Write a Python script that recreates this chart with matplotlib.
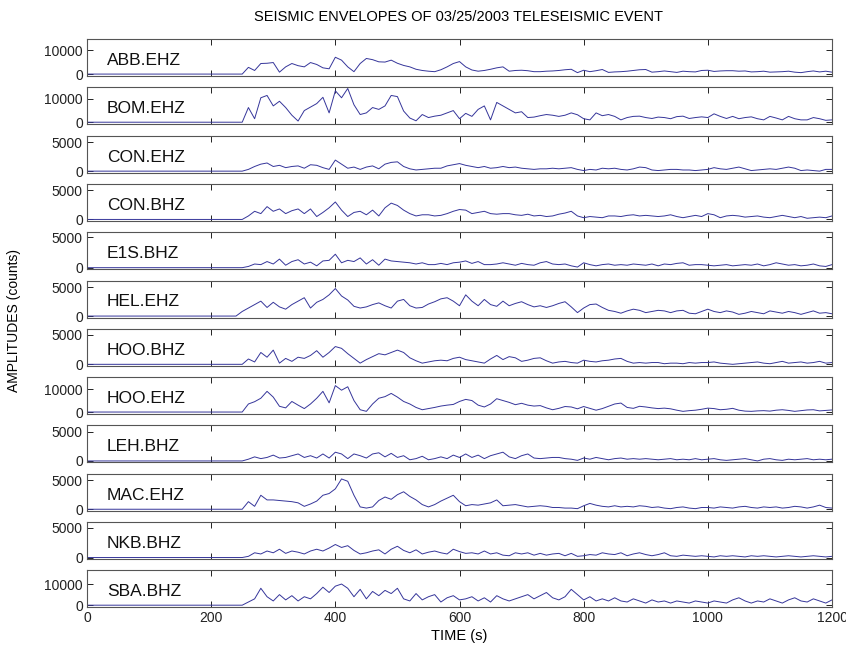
import numpy as np
import matplotlib
matplotlib.use('Agg')
import matplotlib.pyplot as plt

plt.rcParams['font.family'] = ['Liberation Sans', 'DejaVu Sans']

# station / channel names, top to bottom
stations = ['ABB.EHZ', 'BOM.EHZ', 'CON.EHZ', 'CON.BHZ', 'E1S.BHZ', 'HEL.EHZ',
            'HOO.BHZ', 'HOO.EHZ', 'LEH.BHZ', 'MAC.EHZ', 'NKB.BHZ', 'SBA.BHZ']

# envelope amplitudes, every 10 s from 250 s, in thousands of counts
abb_ehz = [0.0, 2.8, 1.5, 4.4, 4.5, 4.8, 0.8, 3.0, 4.4, 3.5,
           3.0, 4.8, 4.0, 2.6, 2.2, 7.0, 5.8, 3.0, 1.0, 4.4,
           6.5, 6.0, 5.1, 5.0, 5.8, 4.5, 3.6, 3.0, 2.0, 1.5,
           1.2, 1.0, 1.8, 3.0, 4.4, 5.2, 3.0, 1.7, 1.2, 1.5,
           2.0, 2.6, 3.0, 1.2, 1.5, 1.6, 1.4, 1.0, 1.0, 1.2,
           1.3, 1.5, 1.8, 2.0, 0.6, 1.6, 1.0, 1.4, 1.9, 0.7,
           0.9, 1.0, 1.2, 1.5, 1.8, 1.9, 0.8, 1.0, 1.3, 1.0,
           0.7, 1.2, 1.0, 0.9, 1.5, 1.6, 1.1, 1.3, 1.4, 1.4,
           1.2, 1.3, 0.9, 1.0, 1.2, 0.8, 0.9, 1.0, 1.2, 0.8,
           0.6, 1.0, 1.3, 0.9, 1.2, 0.8]
bom_ehz = [0.0, 6.3, 1.5, 10.5, 11.5, 7.0, 9.0, 6.3, 3.0, 0.5,
           5.0, 6.5, 8.0, 10.7, 4.0, 13.5, 10.5, 14.5, 7.5, 3.3,
           4.0, 6.3, 5.5, 7.0, 11.5, 11.0, 4.8, 1.8, 0.6, 3.3,
           2.0, 2.6, 3.0, 4.0, 5.0, 1.5, 3.8, 2.5, 5.5, 7.0,
           1.0, 8.5, 7.0, 5.5, 4.0, 4.5, 2.0, 2.2, 2.8, 3.3,
           3.0, 2.5, 3.0, 4.0, 3.2, 1.5, 1.0, 4.0, 2.8, 3.3,
           2.5, 1.0, 2.0, 2.5, 2.6, 2.0, 1.6, 2.2, 2.0, 1.5,
           2.4, 2.6, 1.6, 2.0, 2.3, 2.0, 3.6, 2.5, 1.6, 2.5,
           1.5, 2.0, 2.3, 1.5, 1.0, 2.5, 1.8, 1.0, 2.5, 1.5,
           1.0, 1.0, 2.0, 1.5, 0.8, 1.0]
con_ehz = [0.0, 0.3, 0.8, 1.2, 1.4, 0.8, 1.0, 0.6, 0.8, 0.9,
           0.5, 1.1, 1.0, 0.6, 0.3, 1.9, 1.2, 0.5, 0.7, 0.3,
           0.7, 0.9, 0.4, 1.2, 1.5, 1.6, 0.8, 0.4, 0.2, 0.3,
           0.4, 0.5, 0.5, 0.9, 1.1, 1.3, 1.0, 0.8, 0.6, 0.8,
           0.5, 0.6, 0.8, 0.6, 0.7, 0.5, 0.4, 0.3, 0.4, 0.4,
           0.5, 0.4, 0.5, 0.6, 0.3, 0.1, 0.3, 0.2, 0.5, 0.4,
           0.5, 0.3, 0.2, 0.4, 0.7, 0.6, 0.2, 0.1, 0.2, 0.3,
           0.3, 0.2, 0.2, 0.1, 0.2, 0.3, 0.6, 0.4, 0.3, 0.5,
           0.7, 0.4, 0.1, 0.2, 0.3, 0.4, 0.3, 0.5, 0.7, 0.5,
           0.1, 0.2, 0.1, 0.0, 0.3, 0.3]
con_bhz = [0.0, 0.6, 1.4, 1.0, 2.2, 1.4, 1.8, 1.0, 1.5, 1.8,
           1.0, 1.8, 0.5, 1.2, 2.0, 3.0, 1.6, 0.5, 1.2, 1.4,
           0.8, 1.6, 0.6, 2.0, 2.8, 2.4, 1.6, 1.0, 0.6, 0.8,
           0.8, 0.6, 0.7, 1.0, 1.4, 1.7, 1.6, 1.0, 1.2, 1.4,
           1.0, 0.9, 1.0, 1.0, 0.8, 0.7, 0.9, 0.6, 0.7, 0.5,
           0.6, 0.9, 1.1, 1.4, 0.6, 0.3, 0.5, 0.4, 0.3, 0.6,
           0.6, 0.5, 0.7, 0.8, 0.6, 0.7, 0.6, 0.5, 0.6, 0.8,
           0.5, 0.3, 0.5, 0.7, 0.5, 1.0, 0.8, 0.3, 0.6, 0.7,
           0.6, 0.4, 0.5, 0.6, 0.4, 0.3, 0.5, 0.7, 0.5, 0.3,
           0.5, 0.2, 0.3, 0.4, 0.3, 0.6]
e1s_bhz = [0.0, 0.2, 0.6, 0.5, 1.0, 0.6, 1.4, 0.4, 1.0, 1.3,
           0.6, 0.9, 0.3, 1.1, 1.2, 2.2, 0.8, 1.2, 1.0, 1.6,
           0.6, 1.3, 0.4, 1.4, 1.1, 1.0, 0.9, 0.8, 0.6, 0.8,
           0.5, 0.5, 0.7, 0.5, 0.8, 0.9, 1.1, 0.7, 1.0, 0.5,
           0.5, 0.6, 0.8, 0.6, 0.4, 0.7, 0.5, 0.4, 0.8, 1.0,
           0.6, 0.5, 0.6, 0.3, 0.1, 0.8, 0.5, 0.3, 0.5, 0.6,
           0.4, 0.5, 0.4, 0.6, 0.5, 0.4, 0.6, 0.3, 0.6, 0.5,
           0.7, 0.8, 0.4, 0.5, 0.5, 0.4, 0.3, 0.4, 0.5, 0.3,
           0.4, 0.5, 0.4, 0.6, 0.3, 0.5, 0.8, 0.6, 0.4, 0.5,
           0.3, 0.4, 0.6, 0.3, 0.2, 0.5]
hel_ehz = [0.8, 1.4, 2.0, 2.6, 1.5, 2.4, 1.6, 1.2, 2.0, 2.6,
           3.2, 1.4, 2.4, 2.9, 3.7, 4.8, 3.5, 2.8, 1.7, 1.4,
           1.6, 2.0, 2.3, 1.8, 1.4, 2.6, 2.9, 1.8, 1.4, 1.5,
           2.1, 2.5, 3.0, 3.2, 2.6, 1.8, 3.7, 2.6, 1.8, 2.9,
           2.0, 1.7, 2.6, 1.8, 2.2, 2.5, 2.0, 1.6, 1.8, 1.5,
           1.8, 2.2, 2.5, 1.6, 0.6, 1.4, 2.0, 2.1, 1.5, 1.0,
           0.8, 0.5, 0.9, 1.2, 1.0, 0.6, 0.8, 1.0, 0.9, 0.6,
           0.9, 1.0, 0.5, 0.4, 0.8, 1.2, 0.8, 0.6, 0.9, 0.7,
           0.3, 0.5, 0.8, 0.6, 0.4, 0.9, 0.7, 0.5, 0.8, 0.6,
           0.3, 0.6, 0.9, 0.5, 0.6, 0.4]
hoo_bhz = [0.0, 0.9, 0.4, 2.0, 1.2, 2.4, 0.2, 1.0, 0.5, 1.2,
           1.0, 1.5, 2.3, 1.2, 2.0, 3.0, 2.7, 1.8, 1.0, 0.2,
           0.8, 1.3, 1.8, 1.6, 2.0, 2.4, 2.0, 1.1, 0.6, 0.2,
           0.4, 0.6, 0.7, 0.6, 1.0, 1.2, 0.8, 0.6, 0.4, 0.2,
           0.9, 1.5, 0.8, 1.3, 1.1, 0.5, 0.7, 1.0, 1.1, 0.6,
           0.2, 0.4, 0.5, 0.3, 0.2, 0.7, 0.5, 0.4, 0.6, 0.7,
           0.9, 1.0, 0.5, 0.2, 0.3, 0.2, 0.3, 0.3, 0.1, 0.2,
           0.2, 0.1, 0.3, 0.2, 0.3, 0.3, 0.4, 0.2, 0.1, 0.0,
           0.1, 0.2, 0.3, 0.4, 0.2, 0.1, 0.3, 0.5, 0.2, 0.3,
           0.4, 0.2, 0.3, 0.5, 0.2, 0.3]
hoo_ehz = [0.0, 3.5, 4.5, 6.0, 9.0, 6.5, 2.5, 1.8, 4.6, 3.0,
           1.5, 3.5, 6.0, 9.0, 4.0, 11.5, 9.5, 11.0, 5.0, 1.0,
           0.3, 3.5, 6.0, 6.7, 8.1, 6.5, 4.6, 3.5, 2.0, 1.0,
           1.5, 2.0, 2.6, 3.0, 3.3, 4.6, 5.5, 5.0, 3.0, 2.2,
           3.5, 5.8, 5.0, 4.2, 3.2, 3.8, 3.0, 2.6, 2.8, 1.8,
           1.0, 1.6, 2.4, 2.2, 1.4, 2.4, 1.6, 0.8, 1.5, 2.5,
           3.5, 3.9, 2.0, 1.6, 2.5, 2.2, 1.8, 1.5, 1.7, 1.4,
           0.8, 0.3, 0.6, 0.8, 1.2, 1.7, 1.5, 1.0, 1.2, 1.6,
           0.8, 0.4, 0.3, 0.5, 0.6, 0.4, 0.8, 1.0, 0.7, 0.3,
           0.6, 0.9, 1.0, 0.5, 0.7, 0.9]
leh_bhz = [0.0, 0.3, 0.7, 0.4, 0.6, 1.0, 0.5, 0.6, 0.9, 1.2,
           0.6, 0.9, 0.5, 1.2, 0.5, 1.5, 1.2, 0.4, 1.2, 0.9,
           0.5, 1.2, 1.4, 0.7, 1.3, 0.6, 0.9, 0.2, 0.4, 0.8,
           0.2, 0.4, 0.7, 0.4, 1.0, 0.6, 1.2, 0.6, 1.0, 0.4,
           0.9, 1.2, 1.5, 0.7, 0.4, 0.9, 1.2, 0.5, 0.4, 0.5,
           0.6, 0.6, 0.4, 0.3, 0.1, 0.5, 0.3, 0.6, 0.4, 0.2,
           0.4, 0.5, 0.3, 0.4, 0.3, 0.4, 0.3, 0.2, 0.3, 0.4,
           0.2, 0.3, 0.2, 0.4, 0.2, 0.3, 0.4, 0.2, 0.1, 0.2,
           0.3, 0.4, 0.2, 0.0, 0.3, 0.4, 0.2, 0.1, 0.3, 0.2,
           0.3, 0.4, 0.2, 0.3, 0.2, 0.3]
mac_ehz = [0.0, 1.3, 0.5, 2.4, 1.6, 1.6, 1.5, 1.4, 1.3, 1.1,
           0.5, 0.9, 1.4, 2.4, 2.7, 3.5, 5.2, 4.8, 2.4, 0.4,
           0.2, 0.4, 1.5, 2.1, 1.7, 2.5, 3.0, 2.2, 1.6, 0.8,
           0.4, 0.8, 1.4, 1.9, 2.4, 1.3, 0.6, 0.8, 0.7, 0.9,
           1.1, 1.6, 0.6, 0.7, 0.8, 0.6, 0.4, 0.5, 0.6, 0.5,
           0.3, 0.3, 0.2, 0.2, 0.1, 0.6, 1.0, 0.7, 0.5, 0.4,
           0.6, 0.4, 0.5, 0.4, 0.6, 0.5, 0.3, 0.4, 0.2, 0.1,
           0.3, 0.4, 0.2, 0.1, 0.3, 0.3, 0.2, 0.4, 0.3, 0.2,
           0.4, 0.5, 0.3, 0.2, 0.4, 0.3, 0.4, 0.2, 0.3, 0.5,
           0.4, 0.2, 0.4, 0.7, 0.3, 0.2]
nkb_bhz = [0.0, 0.2, 0.8, 0.6, 1.1, 0.8, 1.4, 0.7, 1.1, 0.9,
           0.6, 1.1, 1.4, 1.1, 1.6, 2.2, 1.7, 2.0, 1.2, 0.6,
           0.8, 1.1, 1.3, 0.6, 1.4, 1.9, 1.2, 0.8, 1.3, 0.6,
           0.9, 1.1, 0.8, 0.6, 1.4, 1.0, 0.7, 0.8, 0.6, 1.1,
           0.6, 0.8, 0.4, 0.3, 0.8, 0.6, 0.8, 0.4, 0.7, 0.4,
           0.6, 0.7, 0.3, 0.7, 0.2, 0.3, 0.5, 0.4, 0.8, 0.6,
           0.5, 0.8, 0.3, 0.6, 0.8, 0.5, 0.3, 0.5, 0.8, 0.3,
           0.2, 0.4, 0.3, 0.2, 0.3, 0.2, 0.1, 0.3, 0.2, 0.3,
           0.2, 0.1, 0.3, 0.2, 0.3, 0.2, 0.1, 0.2, 0.3, 0.2,
           0.1, 0.2, 0.3, 0.2, 0.1, 0.2]
sba_bhz = [0.0, 1.5, 3.0, 8.0, 4.0, 2.0, 5.0, 2.5, 4.5, 2.0,
           4.0, 3.0, 5.5, 8.5, 6.0, 9.0, 10.0, 8.0, 4.0, 7.5,
           3.0, 6.5, 4.5, 7.0, 5.5, 8.0, 3.0, 2.0, 5.5, 2.5,
           4.0, 5.0, 1.5, 3.5, 4.5, 2.5, 3.0, 4.0, 2.0, 3.5,
           1.5, 4.5, 3.0, 2.0, 3.0, 4.0, 5.0, 3.0, 4.5, 6.0,
           3.5, 2.5, 4.0, 7.5, 5.0, 2.5, 4.0, 2.0, 3.0, 2.0,
           3.5, 2.0, 1.5, 3.0, 2.0, 1.0, 2.5, 1.5, 2.0, 1.0,
           2.0, 1.5, 1.0, 2.0, 1.5, 1.0, 2.0, 1.5, 1.0, 2.5,
           3.5, 2.0, 1.0, 2.0, 1.5, 3.0, 2.0, 1.0, 2.5, 3.5,
           2.0, 1.5, 3.0, 2.0, 1.0, 2.5]

envelopes = [abb_ehz, bom_ehz, con_ehz, con_bhz, e1s_bhz, hel_ehz,
             hoo_bhz, hoo_ehz, leh_bhz, mac_ehz, nkb_bhz, sba_bhz]
onsets = [250, 246, 250, 250, 250, 240, 250, 250, 250, 250, 250, 250]  # s, first arrival
ytop_tick = [10000, 10000, 5000, 5000, 5000, 5000, 5000, 10000, 5000, 5000, 5000, 10000]
ylims = [(-800, 14600), (-900, 15000), (-250, 6100), (-250, 6100), (-250, 5800), (-250, 6200),
         (-250, 6000), (-900, 15200), (-250, 6100), (-250, 6100), (-250, 6000), (-1000, 16500)]

line_col = '#35359a'

fig = plt.figure(figsize=(8.46, 6.54), dpi=100)

W, H = 846., 654.
left_px, right_px = 87, 832
top_px, pitch_px, h_px = 39, 48.3, 37

for i, name in enumerate(stations):
    y0 = top_px + i*pitch_px + h_px
    ax = fig.add_axes([left_px/W, 1 - y0/H, (right_px - left_px)/W, h_px/H])

    v = np.array(envelopes[i])*1000.0          # thousands -> counts
    t = 250 + 10*np.arange(len(v))
    x = np.concatenate(([0, onsets[i]], t))
    y = np.concatenate(([0, 0], v))
    ax.plot(x, y, color=line_col, lw=0.7)

    ax.set_xlim(0, 1200)
    ax.set_ylim(*ylims[i])
    ax.set_yticks([0, ytop_tick[i]])
    ax.set_yticklabels(['0', str(ytop_tick[i])])
    ax.set_xticks(np.arange(0, 1201, 200))
    ax.tick_params(direction='in', length=4, width=0.7, top=True, right=True,
                   labelsize=10, pad=3, colors='#222222')
    if i < len(stations) - 1:
        ax.set_xticklabels([])
    for sp in ax.spines.values():
        sp.set_color('#555555')
        sp.set_linewidth(0.8)
    ax.text(0.027, 0.30, name, transform=ax.transAxes, fontsize=12.5,
            ha='left', va='baseline', color='#111111')

fig.text(0.5425, 1 - 17/H, 'SEISMIC ENVELOPES OF 03/25/2003 TELESEISMIC EVENT',
         ha='center', va='center', fontsize=10.5)
fig.text(0.5425, 1 - 636/H, 'TIME (s)', ha='center', va='center', fontsize=10.5)
fig.text(14/W, 1 - 320/H, 'AMPLITUDES (counts)', ha='center', va='center',
         rotation=90, fontsize=10)

fig.savefig('out.png', dpi=100)
